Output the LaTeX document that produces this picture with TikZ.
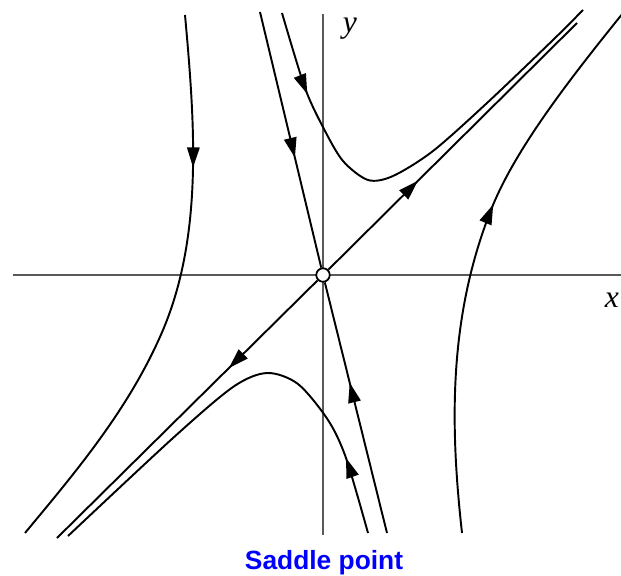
\documentclass[tikz,border=0pt]{standalone}
\usepackage{fontspec}
\newfontfamily\captionfont{Liberation Sans}
\newfontfamily\labelfont{Liberation Serif}
\usetikzlibrary{arrows.meta}
\usetikzlibrary{decorations.markings}

\begin{document}
\begin{tikzpicture}[x=0.02cm, y=0.02cm]

    \tikzset{
        axis/.style={
            draw=black!65,
            line width=0.7pt
        },
        orbit/.style={
            draw,
            line width=1.1pt
        },
        flow/.style={
            postaction={decorate},
            decoration={
                markings,
                mark=at position #1 with {\arrow{Triangle[length=0.4cm, width=0.25cm]}}
            }
        },
        saddle/.style={
            draw,
            circle,
            line width=1pt,
            fill=white,
            inner sep=0pt,
            minimum size=0.27cm
        },
        axlabel/.style={
            font=\labelfont\itshape\fontsize{18}{20}\selectfont
        }
    }
    \useasboundingbox (-323,-300) rectangle (298,275);

    % axes
    \draw[axis] (-310,0) -- (298,0);
    \draw[axis] (0,261) -- (0,-260);
    \node[axlabel] (ylab) at (27,246) {y};
    \node[axlabel] (xlab) at (289,-25) {x};

    \node[saddle] (O) at (0,0) {};

    % separatrices
    \coordinate (S1) at (-63,263);
    \coordinate (S2) at (64,-258);
    \coordinate (U1) at (254,252);
    \coordinate (U2) at (-266,-263);

    \draw[orbit, flow=0.57] (S1) -- (O);
    \draw[orbit, flow=0.6] (S2) -- (O);
    \draw[orbit, flow=0.36] (O) -- (U1);
    \draw[orbit, flow=0.34] (O) -- (U2);

    % other trajectories
    \draw[orbit, flow=0.18] plot[smooth] coordinates {(-41,262) (-18,187) (1,146) (20,114) (45,95) (70,99) (110,124) (164,172) (230,235) (260,265)};
    \draw[orbit, flow=0.17] plot[smooth] coordinates {(45,-258) (23,-183) (5,-145) (-25,-109) (-56,-98) (-90,-112) (-150,-163) (-255,-261)};
    \draw[orbit, flow=0.27] (-138,260) .. controls (-128,150) and (-120,40) .. (-160,-55)
        .. controls (-194,-135) and (-250,-200) .. (-298,-258);
    \draw[orbit, flow=0.59] (139,-258) .. controls (127,-150) and (125,-40) .. (170,70)
        .. controls (195,130) and (250,200) .. (300,262);

    \node[font=\captionfont\bfseries\fontsize{15}{18}\selectfont, text=blue, anchor=base] (cap) at (1,-294) {Saddle point};

\end{tikzpicture}
\end{document}
